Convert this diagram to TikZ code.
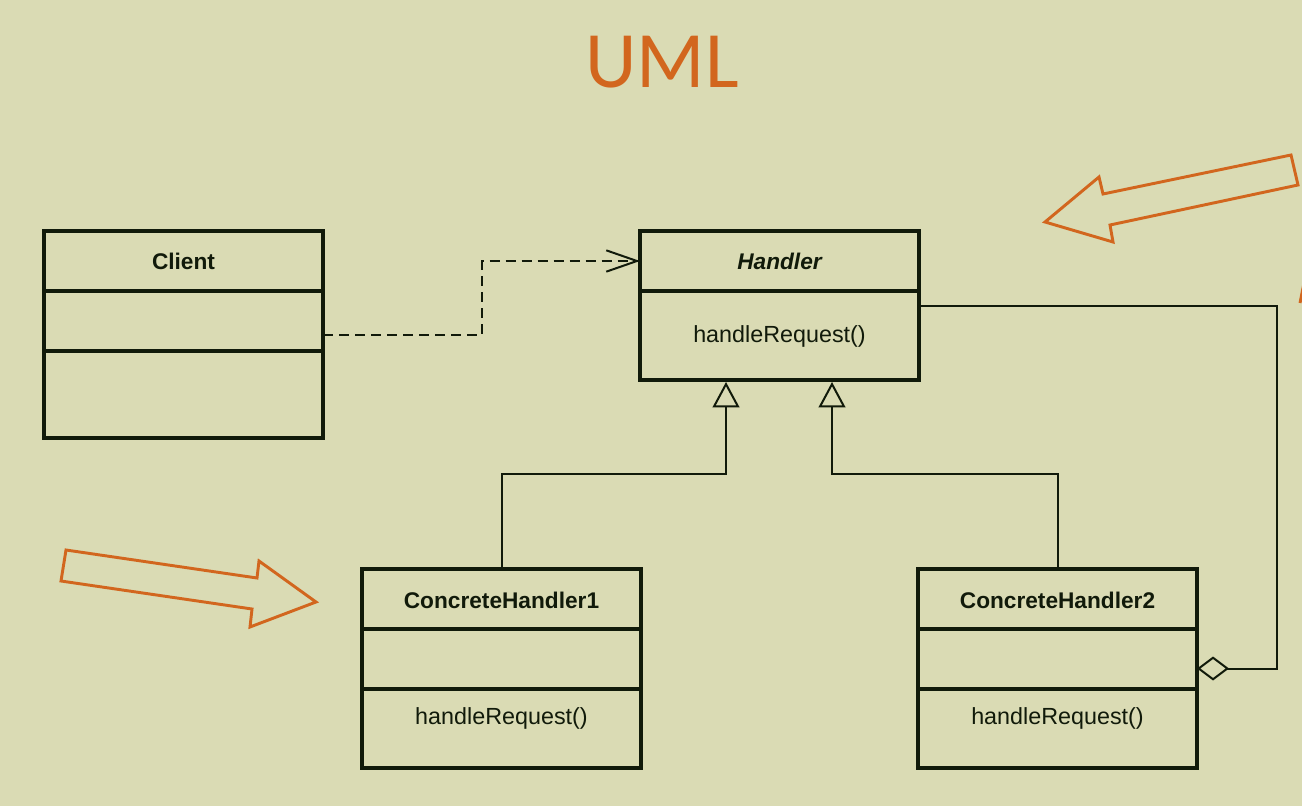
\documentclass[tikz,border=0pt]{standalone}
\usepackage{fontspec}
\setmainfont{Liberation Sans}
\newfontfamily\titlefont{Carlito}
\usepackage{xcolor}
\usepackage{tikz}
\usetikzlibrary{calc, positioning, arrows.meta}

\definecolor{bgc}{RGB}{218,219,180}
\definecolor{linec}{RGB}{17,26,10}
\definecolor{orangec}{RGB}{210,102,30}

\tikzset{
  umlbox/.style={draw=linec, line width=3pt, minimum width=209.25pt, inner sep=0pt, outer sep=0pt, anchor=north west},
  divider/.style={draw=linec, line width=3pt},
  boldtxt/.style={text=linec, font=\fontsize{17}{20}\selectfont\bfseries},
  plaintxt/.style={text=linec, font=\fontsize{17.5}{20}\selectfont},
  inherit/.style={draw=linec, line width=1.5pt, -{Triangle[open, length=19pt, width=20pt, line width=1.5pt]}, shorten >=1.5pt},
  depend/.style={draw=linec, line width=1.5pt, dash pattern=on 7.5pt off 4.5pt, -{Straight Barb[length=23pt, width=16pt, line width=1.5pt]}},
  aggreg/.style={draw=linec, line width=1.5pt, {Diamond[open, length=24pt, width=18pt, line width=1.5pt]}-},
  hint/.style={draw=orangec, line width=2.2pt, line join=miter}
}

\begin{document}
\begin{tikzpicture}[x=0.75pt, y=-0.75pt]
    % fundo:
    \useasboundingbox (0,0) rectangle (1302,806);
    \fill[bgc] (0,0) rectangle (1302,806);
    \node[font=\titlefont\fontsize{60}{60}\selectfont, text=orangec] (title) at (662,62) {UML};

    % Client:
    \node[umlbox, minimum height=155.25pt] (client) at (44,231) {};
    \draw[divider] ($(client.north west)+(0,60)$) -- ($(client.north east)+(0,60)$);
    \draw[divider] ($(client.north west)+(0,120)$) -- ($(client.north east)+(0,120)$);
    \node[boldtxt] (cname) at (183.5,261) {Client};

    % Handler:
    \node[umlbox, minimum height=111.75pt] (handler) at (640,231) {};
    \draw[divider] ($(handler.north west)+(0,60)$) -- ($(handler.north east)+(0,60)$);
    \node[boldtxt, font=\fontsize{17}{20}\selectfont\bfseries\itshape] (hname) at (779.5,261) {Handler};
    \node[plaintxt] (hop) at (779.5,336) {handleRequest()};

    % ConcreteHandler1:
    \node[umlbox, minimum height=149.25pt] (concrete1) at (362,569) {};
    \draw[divider] ($(concrete1.north west)+(0,60)$) -- ($(concrete1.north east)+(0,60)$);
    \draw[divider] ($(concrete1.north west)+(0,120)$) -- ($(concrete1.north east)+(0,120)$);
    \node[boldtxt] (c1name) at (501.5,600) {ConcreteHandler1};
    \node[plaintxt] (c1op) at (501.5,718) {handleRequest()};

    % ConcreteHandler2:
    \node[umlbox, minimum height=149.25pt] (concrete2) at (918,569) {};
    \draw[divider] ($(concrete2.north west)+(0,60)$) -- ($(concrete2.north east)+(0,60)$);
    \draw[divider] ($(concrete2.north west)+(0,120)$) -- ($(concrete2.north east)+(0,120)$);
    \node[boldtxt] (c2name) at (1057.5,600) {ConcreteHandler2};
    \node[plaintxt] (c2op) at (1057.5,718) {handleRequest()};

    % ligacoes:
    \draw[depend] (client.east) -- ++(159,0) |- (handler.west |- hname);
    \draw[inherit] (concrete1.north) |- ($(handler.south)+(-53.5,94)$) -- ($(handler.south)+(-53.5,0)$);
    \draw[inherit] (concrete2.north) |- ($(handler.south)+(52.5,94)$) -- ($(handler.south)+(52.5,0)$);
    \draw[aggreg] (concrete2.east) -- ++(80,0) |- (handler.east);

    % setas laranja:
    \draw[hint] (1045,222) -- (1099,177) -- (1103,194) -- (1291,155) -- (1298,185)
        -- (1110,225) -- (1113,242) -- cycle;
    \draw[hint] (66,550) -- (257,578) -- (259,561) -- (316,602) -- (250,627)
        -- (252,609) -- (61,581) -- cycle;
    \draw[hint] (1300,303) -- (1304,283);
\end{tikzpicture}
\end{document}
